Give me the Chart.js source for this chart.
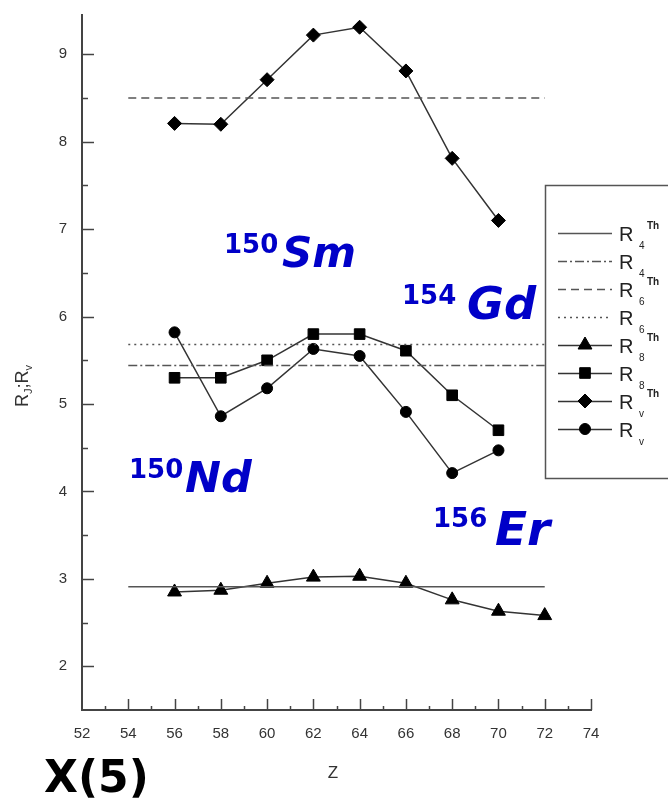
<!DOCTYPE html>
<html>
<head>
<meta charset="utf-8">
<script src="https://cdn.jsdelivr.net/npm/chart.js@4/dist/chart.umd.min.js"></script>
<style>
html,body{margin:0;padding:0;background:#fff;overflow:hidden}
#wrap{position:relative;width:668px;height:805px}
</style>
</head>
<body>
<div id="wrap"><canvas id="c" width="668" height="805"></canvas></div>
<script>
// ---------- data ----------
const zRv = [56, 58, 60, 62, 64, 66, 68, 70];
const zR8Th = [56, 58, 60, 62, 64, 66, 68, 70, 72];
const r8Th = [2.85, 2.87, 2.95, 3.02, 3.03, 2.95, 2.76, 2.63, 2.58];
const r8 = [5.30, 5.30, 5.50, 5.80, 5.80, 5.61, 5.10, 4.70];
const rvTh = [8.21, 8.20, 8.71, 9.22, 9.31, 8.81, 7.81, 7.10];
const rv = [5.82, 4.86, 5.18, 5.63, 5.55, 4.91, 4.21, 4.47];
const levelZ = [54, 72];
const r4Th = 2.91;
const r4 = 5.44;
const r6Th = 8.50;
const r6 = 5.68;
const xTickValues = [52, 54, 56, 58, 60, 62, 64, 66, 68, 70, 72, 74];
const yTickValues = [2, 3, 4, 5, 6, 7, 8, 9];
const legendSubs = ['4', '4', '6', '6', '8', '8', 'v', 'v'];
const legendSups = ['Th', '', 'Th', '', 'Th', '', 'Th', ''];
const nucleiMass = ['150', '154', '150', '156'];
const nucleiSymbol = ['Sm', 'Gd', 'Nd', 'Er'];
const modelLabel = 'X(5)';
const xTitle = 'Z';

const pts = (xs, ys) => xs.map((x, i) => ({x: x, y: ys[i]}));
const level = v => levelZ.map(x => ({x: x, y: v}));

const LINE = '#333';
const HLINE = '#555';

const datasets = [
  {data: level(r4Th), borderColor: HLINE, borderWidth: 1.5, pointRadius: 0, borderDash: []},
  {data: level(r4), borderColor: HLINE, borderWidth: 1.5, pointRadius: 0, borderDash: [9, 3, 2, 3]},
  {data: level(r6Th), borderColor: HLINE, borderWidth: 1.5, pointRadius: 0, borderDash: [8, 5]},
  {data: level(r6), borderColor: HLINE, borderWidth: 1.5, pointRadius: 0, borderDash: [2, 4]},
  {data: pts(zR8Th, r8Th), borderColor: LINE, borderWidth: 1.5, pointStyle: 'triangle', pointRadius: 8, pointBackgroundColor: '#000', pointBorderColor: '#000', pointBorderWidth: 1},
  {data: pts(zRv, r8), borderColor: LINE, borderWidth: 1.5, pointStyle: 'rect', pointRadius: 7.5, pointBackgroundColor: '#000', pointBorderColor: '#000', pointBorderWidth: 1},
  {data: pts(zRv, rvTh), borderColor: LINE, borderWidth: 1.5, pointStyle: 'rectRot', pointRadius: 7, pointBackgroundColor: '#000', pointBorderColor: '#000', pointBorderWidth: 1},
  {data: pts(zRv, rv), borderColor: LINE, borderWidth: 1.5, pointStyle: 'circle', pointRadius: 5.5, pointBackgroundColor: '#000', pointBorderColor: '#000', pointBorderWidth: 1}
];
datasets.forEach(d => { d.fill = false; d.tension = 0; d.pointHoverRadius = d.pointRadius; });

// ---------- plugins ----------
const innerTicks = {
  id: 'innerTicks',
  afterDatasetsDraw(chart) {
    const {ctx, scales: {x, y}} = chart;
    ctx.save();
    ctx.strokeStyle = '#444';
    ctx.lineWidth = 1.5;
    const left = x.left, bottom = y.bottom;
    for (let v = 2; v <= 9; v += 0.5) {
      const py = Math.round(y.getPixelForValue(v)) + 0.5;
      const len = Number.isInteger(v) ? 12 : 6;
      ctx.beginPath(); ctx.moveTo(left, py); ctx.lineTo(left + len, py); ctx.stroke();
    }
    for (let v = 53; v <= 74; v += 1) {
      const px = Math.round(x.getPixelForValue(v)) + 0.5;
      const len = v % 2 === 0 ? 11 : 4;
      ctx.beginPath(); ctx.moveTo(px, bottom); ctx.lineTo(px, bottom - len); ctx.stroke();
    }
    ctx.restore();
  }
};

const legendBox = {
  id: 'legendBox',
  afterDatasetsDraw(chart) {
    const ctx = chart.ctx;
    const bx = 545, by = 185, bw = 140, bh = 293;
    ctx.save();
    ctx.fillStyle = '#fff';
    ctx.fillRect(bx, by, bw, bh);
    ctx.strokeStyle = '#555';
    ctx.lineWidth = 1.5;
    ctx.strokeRect(bx + 0.5, by + 0.5, bw, bh);
    const x0 = 558, x1 = 612, tx = 619;
    chart.data.datasets.forEach((ds, i) => {
      const yy = 233 + i * 28;
      ctx.save();
      ctx.strokeStyle = ds.borderColor;
      ctx.lineWidth = 1.5;
      ctx.setLineDash(ds.borderDash || []);
      ctx.beginPath(); ctx.moveTo(x0, yy + 0.5); ctx.lineTo(x1, yy + 0.5); ctx.stroke();
      ctx.restore();
      if (ds.pointRadius > 0) {
        ctx.save();
        ctx.fillStyle = '#000'; ctx.strokeStyle = '#000'; ctx.lineWidth = 1;
        Chart.helpers.drawPoint(ctx, {pointStyle: ds.pointStyle, radius: ds.pointRadius, rotation: 0, borderWidth: 1}, (x0 + x1) / 2, yy);
        ctx.restore();
      }
      ctx.fillStyle = '#222';
      ctx.textBaseline = 'alphabetic';
      ctx.textAlign = 'left';
      ctx.font = '20px "Liberation Sans", Arial, sans-serif';
      ctx.fillText('R', tx, yy + 8);
      ctx.font = '10px "Liberation Sans", Arial, sans-serif';
      ctx.fillText(legendSubs[i], tx + 20, yy + 16);
      if (legendSups[i]) {
        ctx.font = 'bold 10px "Liberation Sans", Arial, sans-serif';
        ctx.fillText(legendSups[i], tx + 28, yy - 4);
      }
    });
    ctx.restore();
  }
};

const texts = {
  id: 'texts',
  afterDraw(chart) {
    const ctx = chart.ctx;
    ctx.save();
    // y axis title R_J;R_v
    ctx.translate(28, 407);
    ctx.rotate(-Math.PI / 2);
    ctx.fillStyle = '#333';
    ctx.textBaseline = 'alphabetic';
    ctx.textAlign = 'left';
    const big = '18px "Liberation Sans", Arial, sans-serif';
    const small = '11px "Liberation Sans", Arial, sans-serif';
    let cx = 0;
    ctx.font = big; ctx.fillText('R', cx, 0); cx += ctx.measureText('R').width;
    ctx.font = small; ctx.fillText('J', cx, 4); cx += ctx.measureText('J').width;
    ctx.font = big; ctx.fillText(';', cx, 0); cx += ctx.measureText(';').width;
    ctx.fillText('R', cx, 0); cx += ctx.measureText('R').width;
    ctx.font = small; ctx.fillText('v', cx, 4);
    ctx.restore();

    ctx.save();
    ctx.fillStyle = '#333';
    ctx.font = '17px "Liberation Sans", Arial, sans-serif';
    ctx.textAlign = 'center';
    ctx.fillText(xTitle, 333, 778);
    // model label
    ctx.fillStyle = '#000';
    ctx.textAlign = 'left';
    ctx.font = 'bold 44px "DejaVu Sans", sans-serif';
    ctx.fillText(modelLabel, 44, 792);
    // nuclei labels
    const pos = [
      {mx: 224, my: 253, sx: 282, sy: 267, fs: 42},
      {mx: 402, my: 304, sx: 467, sy: 319, fs: 45},
      {mx: 129, my: 478, sx: 185, sy: 492, fs: 43},
      {mx: 433, my: 527, sx: 495, sy: 545, fs: 47}
    ];
    ctx.fillStyle = '#0000c8';
    nucleiMass.forEach((m, i) => {
      const p = pos[i];
      ctx.font = 'bold 26px "DejaVu Sans", sans-serif';
      ctx.fillText(m, p.mx, p.my);
      ctx.font = 'italic bold ' + p.fs + 'px "DejaVu Sans", sans-serif';
      ctx.fillText(nucleiSymbol[i], p.sx, p.sy);
    });
    ctx.restore();
  }
};

// ---------- chart ----------
new Chart(document.getElementById('c'), {
  type: 'line',
  data: {datasets: datasets},
  options: {
    responsive: false,
    animation: false,
    devicePixelRatio: 1,
    layout: {autoPadding: false, padding: {left: 0, right: 77, top: 15, bottom: 0}},
    plugins: {legend: {display: false}, tooltip: {enabled: false}, title: {display: false}},
    scales: {
      x: {
        type: 'linear', min: 52, max: 74,
        afterFit(s) { s.height = 95; },
        afterBuildTicks(s) { s.ticks = xTickValues.map(v => ({value: v})); },
        ticks: {stepSize: 2, padding: 0, color: '#333', font: {family: '"Liberation Sans", Arial, sans-serif', size: 15}, maxRotation: 0, autoSkip: false},
        grid: {display: false, drawTicks: true, tickLength: 15},
        border: {display: true, color: '#444', width: 2}
      },
      y: {
        type: 'linear', min: 1.5, max: 9.45,
        afterFit(s) { s.width = 82; },
        afterBuildTicks(s) { s.ticks = yTickValues.map(v => ({value: v})); },
        ticks: {stepSize: 1, padding: 0, color: '#333', font: {family: '"Liberation Sans", Arial, sans-serif', size: 15}, includeBounds: false},
        grid: {display: false, drawTicks: true, tickLength: 15},
        border: {display: true, color: '#444', width: 2}
      }
    }
  },
  plugins: [innerTicks, legendBox, texts]
});
</script>
</body>
</html>
